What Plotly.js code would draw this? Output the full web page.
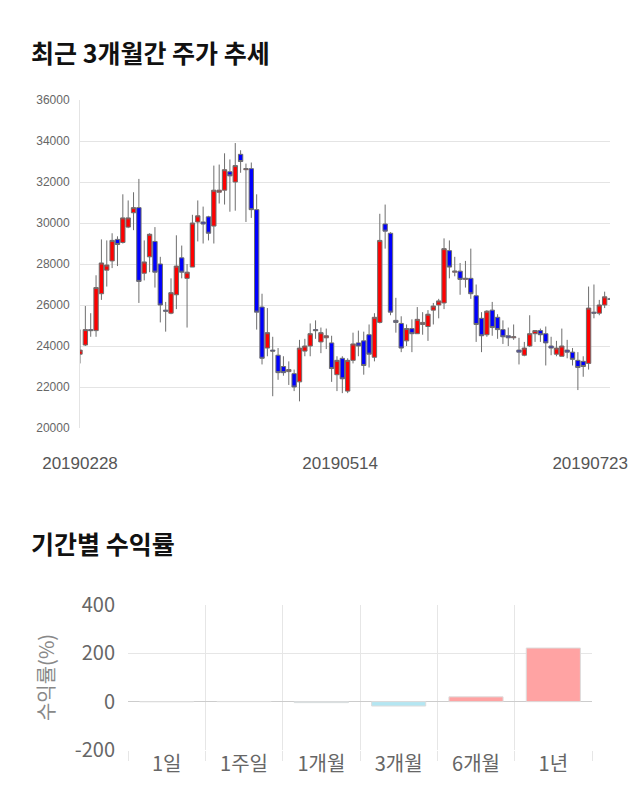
<!DOCTYPE html>
<html><head><meta charset="utf-8">
<script src="https://cdn.plot.ly/plotly-3.0.1.min.js"></script>
<style>html,body{margin:0;padding:0;background:#fff;} #chart{width:640px;height:810px;}</style>
</head><body><div id="chart"></div>
<script>
// ---- price data (daily candles, 2019-02-28 .. 2019-07-23) ----
const openP  = [23600,24050,24800,24750,26550,27700,28150,29200,29050,29800,
                30500,30750,27550,28350,29100,28000,25750,25600,26500,28300,
                27300,27850,30050,30050,30300,29850,31500,31600,32500,32000,
                33350,32600,32650,30650,25900,23900,23800,23550,23000,22750,
                22650,22250,23750,24000,24800,24200,24400,24150,22600,23400,
                21800,23300,24150,24250,24550,23450,25150,29950,29500,25250,
                25100,24250,24850,24600,25050,24950,25750,26000,26100,28650,
                27600,27650,27250,27300,26450,25350,24550,25750,25400,24800,
                24500,24400,23800,23550,24000,24600,24750,24600,24000,23600,
                23500,23800,23700,23300,23250,23150,25650,25600,26000,26300];
const highP  = [24800,25950,25600,27450,29200,29150,29500,29350,31400,31100,
                31500,32150,29150,29500,29800,28350,26150,27300,29400,28900,
                28000,30400,31100,30800,30350,32800,32850,33400,33100,33900,
                33550,32900,32950,31400,26550,25850,24450,23900,23500,23250,
                22850,24300,24350,25100,25250,24900,24850,24500,23500,23500,
                23400,24650,24750,24700,25050,25600,30450,30900,29550,26350,
                25450,25050,25300,25900,25650,25750,26100,26300,29250,29150,
                28350,28050,28150,28750,27000,25650,25750,26150,25550,25250,
                24900,25050,24400,24200,25500,24750,24850,24950,24450,24250,
                24850,24300,23900,23700,23500,26900,27000,26250,26650,26350];
const lowP   = [23150,24000,24450,24450,26250,26900,27800,27900,29000,29750,
                29650,26100,27200,27600,26850,25150,24700,25550,25800,27300,
                24900,27850,29100,29000,29150,29000,30950,30900,30550,30600,
                32450,30050,30250,24800,23100,23500,21550,22350,22550,22100,
                21800,21300,23500,23500,24350,23650,23850,22250,21800,21700,
                21700,23150,23500,22600,22950,23250,25100,28750,25500,24650,
                23700,24000,23700,24600,24550,24250,25050,25350,25800,27300,
                27400,26500,26850,26300,24200,23700,24450,24500,24350,24100,
                24000,24300,23100,23500,23950,24200,24200,23050,23550,23500,
                23500,23400,23050,21850,22500,22850,25350,25500,25850,26250];
const closeP = [23800,24800,24750,26850,28050,27950,29150,28950,30250,30250,
                30750,27150,28100,29450,27600,26000,25700,26600,27900,27600,
                27600,30000,30350,29950,29500,31600,31600,32600,32300,32800,
                33000,32650,30650,25650,23400,24650,23750,22700,22700,22850,
                22000,23900,24000,24600,24750,24650,24500,22900,23300,22400,
                23300,24100,24000,23050,23600,25400,29150,29600,25650,25150,
                23900,24850,24600,25300,25150,25550,25950,26200,28750,27850,
                27650,27250,27300,26550,25050,24500,25700,24900,24800,24450,
                24400,24450,23700,23900,24600,24750,24550,24150,23900,23900,
                24000,23700,23350,22950,23000,25850,25600,26000,26400,26280];
const dayIndex = openP.map((_, i) => i);
const dateLabels = ['20190228', '20190514', '20190723'];
const dateLabelPos = [0, 48.6, 95.3];

// ---- period returns (%) ----
const periods = ['1일', '1주일', '1개월', '3개월', '6개월', '1년'];
const returns = [0, 0.8, -4, -18, 20, 222];
const returnTicks = [-200, 0, 200, 400];
const returnTickLabels = ['-200', '0', '200', '400'];

const W = 640, H = 810;
const fx = p => p / W;
const fy = p => 1 - p / H;
const KR = '"Noto Sans CJK KR", "Noto Sans", sans-serif';

const candle = {
  type: 'candlestick',
  x: dayIndex, open: openP, high: highP, low: lowP, close: closeP,
  xaxis: 'x', yaxis: 'y',
  increasing: {line: {color: '#6e6e6e', width: 1}, fillcolor: '#ff0000'},
  decreasing: {line: {color: '#6e6e6e', width: 1}, fillcolor: '#0000ff'},
  whiskerwidth: 0,
  hoverinfo: 'skip'
};

const bars = {
  type: 'bar',
  x: periods, y: returns,
  xaxis: 'x2', yaxis: 'y2',
  width: 0.7,
  marker: {
    color: returns.map(v => v >= 0 ? '#ffa3a3' : '#b4e6f2'),
    line: {color: '#dddddd', width: 1}
  },
  hoverinfo: 'skip'
};

const layout = {
  width: W, height: H,
  margin: {l: 0, r: 0, t: 0, b: 0},
  paper_bgcolor: '#ffffff', plot_bgcolor: '#ffffff',
  showlegend: false,
  boxgap: 0.05,
  boxgroupgap: 0.15,
  xaxis: {
    domain: [fx(80), fx(610)], range: [0, 99],
    tickmode: 'array', tickvals: dateLabelPos, ticktext: dateLabels,
    showgrid: false, zeroline: false, showline: false,
    ticks: 'outside', ticklen: 20, tickcolor: 'rgba(0,0,0,0)',
    tickfont: {family: '"Liberation Sans", Arial, sans-serif', size: 17, color: '#555'},
    rangeslider: {visible: false}, fixedrange: true
  },
  yaxis: {
    domain: [fy(428), fy(100)], range: [20000, 36000], dtick: 2000, tick0: 20000,
    tickformat: 'd',
    showgrid: true, gridcolor: '#e4e4e4', gridwidth: 1,
    zeroline: false, showline: true, linecolor: '#e4e4e4',
    ticks: 'outside', ticklen: 7, tickcolor: 'rgba(0,0,0,0)',
    tickfont: {family: '"Liberation Sans", Arial, sans-serif', size: 12, color: '#666'},
    fixedrange: true
  },
  xaxis2: {
    domain: [fx(128), fx(592)], anchor: 'y2', type: 'category',
    tickson: 'boundaries', ticks: 'outside', ticklen: 10, tickcolor: '#e6e6e6',
    showgrid: true, gridcolor: '#e6e6e6', showline: false, zeroline: false,
    tickfont: {family: KR, size: 20, color: '#666'},
    fixedrange: true
  },
  yaxis2: {
    domain: [fy(750), fy(605)], anchor: 'x2', range: [-200, 400],
    tickmode: 'array', tickvals: returnTicks, ticktext: returnTickLabels,
    showgrid: true, gridcolor: '#e6e6e6',
    zeroline: true, zerolinecolor: '#cccccc', zerolinewidth: 1,
    showline: false,
    ticks: 'outside', ticklen: 8, tickcolor: 'rgba(0,0,0,0)',
    tickfont: {family: KR, size: 20, color: '#666'},
    title: {text: '수익률(%)', font: {family: KR, size: 20, color: '#888'}, standoff: 14},
    fixedrange: true
  },
  annotations: [
    {text: '<b>최근 3개월간 주가 추세</b>', xref: 'paper', yref: 'paper',
     x: fx(29), y: fy(52), xanchor: 'left', yanchor: 'middle', showarrow: false,
     font: {family: KR, size: 25, color: '#111'}},
    {text: '<b>기간별 수익률</b>', xref: 'paper', yref: 'paper',
     x: fx(29), y: fy(543), xanchor: 'left', yanchor: 'middle', showarrow: false,
     font: {family: KR, size: 25, color: '#111'}}
  ]
};

Plotly.newPlot('chart', [candle, bars], layout, {displayModeBar: false, staticPlot: true});
</script>
</body></html>
